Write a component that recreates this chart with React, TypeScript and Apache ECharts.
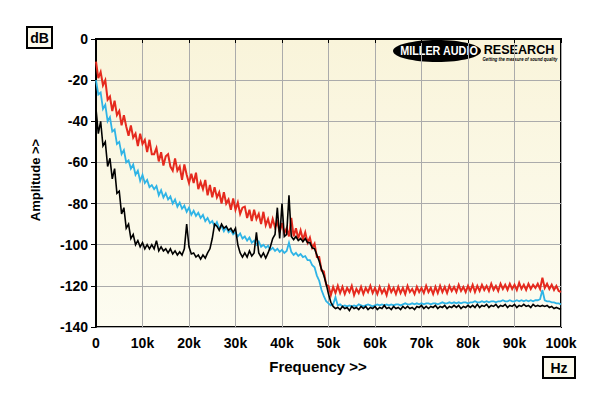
import React, { useEffect, useRef } from "react";
import * as echarts from "echarts";

// Frequency step between samples (Hz); 201 samples from 0 to 100 kHz
const STEP_HZ = 500;

const yTicks = [0, -20, -40, -60, -80, -100, -120, -140];
const xTickLabels = ["0", "10k", "20k", "30k", "40k", "50k", "60k", "70k", "80k", "90k", "100k"];

// Red trace (dB), one value per 0.5 kHz
const redValues = [
  -11, -19, -16, -22.5, -20, -29.5, -28, -35, -30, -37,
  -35, -42, -37, -42.5, -47, -42, -48, -46, -52, -46,
  -51, -49, -55, -49, -56, -56, -53, -59.5, -55, -61.5,
  -57, -56, -62, -64, -58, -64, -62, -68.5, -61, -66,
  -70, -65.5, -70, -65, -73, -69.5, -73, -68.5, -76, -71,
  -77, -72, -77, -74.5, -80, -74.5, -80, -78, -83, -77.5,
  -83, -79.5, -85, -82, -81.5, -87, -83, -88.5, -83, -87.5,
  -85, -90, -84, -90.5, -87.5, -92, -87.5, -91.5, -89, -94,
  -89.5, -94.5, -92, -96, -87, -96, -92, -97, -93, -97.5,
  -94, -99, -96.5, -101.5, -99.5, -106, -106, -112.5, -113, -119.5,
  -120, -124.5, -120.5, -123.5, -120, -123.5, -120.5, -124, -121, -123,
  -120, -124.5, -121.5, -123.5, -120.5, -124, -121, -123, -120, -123.5,
  -121, -124, -120.5, -123.5, -121.5, -124.5, -120, -123, -121, -124,
  -120.5, -123.5, -121, -124, -120, -123, -121.5, -124, -120.5, -123,
  -121, -123.5, -120, -123, -121, -124, -120.5, -123.5, -120, -123,
  -120.5, -123.5, -120, -122.5, -120.5, -123, -119.5, -122.5, -120.5, -123,
  -120, -122.5, -119.5, -123, -120, -122.5, -119.5, -122, -120, -122.5,
  -119, -122, -120, -122.5, -119, -121.5, -119.5, -122, -119, -121.5,
  -119.5, -122, -118.5, -121.5, -119.5, -122, -119, -121.5, -119.5, -121,
  -119, -121.5, -116, -121, -119, -121.5, -119.5, -122, -120, -122.5,
  -123,
];

// Cyan trace (dB)
const cyanValues = [
  -20, -27, -26, -34, -32, -40, -38, -45, -44, -51,
  -50, -56, -54, -60, -59, -63, -61, -66, -64, -69,
  -66, -70, -68.5, -72, -71, -73, -71.5, -76, -73.5, -77,
  -75, -78, -76.5, -80, -78, -81.5, -79.5, -82.5, -81, -84,
  -82, -85.5, -83.5, -86, -84.5, -87, -85.5, -88.5, -87, -89.5,
  -88.5, -91, -89, -92, -91, -93.5, -91.5, -94, -93, -95,
  -94, -96, -94.5, -97, -96, -98, -96.5, -99, -98, -100,
  -98.5, -101, -100, -101.5, -100.5, -102.5, -101.5, -103, -102, -103.5,
  -102.5, -104, -103, -99, -103.5, -105, -104, -105.5, -104.5, -106,
  -105.5, -107.5, -107.5, -110, -111, -115, -117.5, -122, -125, -127.5,
  -128.5, -129.5, -129, -125.5, -129.5, -129, -130, -129.5, -130, -129.5,
  -130, -129.5, -130, -129, -129.5, -130, -129.5, -129, -129.5, -130,
  -129.5, -129, -129.5, -129, -129.5, -129, -129.5, -129, -129.5, -129,
  -129, -129.5, -129, -128.5, -129, -129, -128.5, -129, -128.5, -129,
  -128.5, -129, -128.5, -128.5, -129, -128.5, -128.5, -129, -128.5, -128,
  -128.5, -128.5, -128, -128.5, -128, -128.5, -128, -128.5, -128, -128,
  -128.5, -128, -128, -127.5, -128, -128, -127.5, -128, -127.5, -128,
  -127.5, -127.5, -128, -127.5, -127.5, -127, -127.5, -127.5, -127, -127.5,
  -127.5, -127, -127.5, -127, -127.5, -127, -127.5, -127, -127.5, -127,
  -127, -126.5, -122, -127, -127.5, -127.5, -128, -128, -128.5, -128.5,
  -129,
];

// Black trace (dB)
const blackValues = [
  -34, -46, -40, -52, -50, -62, -58, -68, -63, -75,
  -74, -85, -82, -92, -90, -97, -95, -100, -98, -101,
  -99, -102, -100, -102, -100, -102, -98, -103, -101, -103,
  -102, -104, -102, -104.5, -103, -105, -103.5, -105, -102, -90,
  -101, -104.5, -104, -106, -105, -107, -105, -106.5, -104, -102,
  -97, -90, -91, -93, -90, -92, -91, -93, -92, -94,
  -92, -100, -104, -106, -104, -106, -103, -105.5, -104, -94,
  -104, -106, -104, -106.5, -104, -101, -97, -95, -82, -97,
  -80, -96, -95, -76, -96, -97.5, -96, -98, -97, -98.5,
  -97, -99, -99, -101.5, -102, -105, -108, -112, -115, -119,
  -124, -128, -130, -131, -130.5, -131.5, -130, -131, -130.5, -132,
  -130, -131, -130.5, -131.5, -130, -131, -130, -131.5, -130.5, -131,
  -130, -131.5, -130.5, -131, -129.5, -131, -130.5, -131.5, -130, -131,
  -130.5, -131.5, -130, -131, -130, -131, -130.5, -131.5, -130, -130.5,
  -129.5, -131, -130, -131, -130, -130.5, -129.5, -131, -130, -130.5,
  -129.5, -131, -130, -130.5, -129.5, -130.5, -129.5, -131, -130, -130.5,
  -129.5, -130.5, -129.5, -130.5, -129, -130.5, -129.5, -130, -129, -130.5,
  -129.5, -130, -129, -130.5, -129.5, -130, -129, -130.5, -129.5, -130,
  -129, -130.5, -129.5, -130, -129, -130, -129.5, -130.5, -129, -130,
  -129.5, -130, -129.5, -130, -129.5, -130.5, -130, -131, -130.5, -131,
  -131.5,
];

const toPairs = (vals: number[]) => vals.map((v, i) => [i * STEP_HZ, v]);

const FONT = "'Liberation Sans', Arial, sans-serif";

export default function App() {
  const ref = useRef<HTMLDivElement>(null);

  useEffect(() => {
    if (!ref.current) return;
    const chart = echarts.init(ref.current, null, { renderer: "svg" });
    const lineSeries = (name: string, vals: number[], color: string, width: number) => ({
      name,
      type: "line",
      data: toPairs(vals),
      showSymbol: false,
      symbol: "none",
      lineStyle: { color, width, join: "miter" },
      silent: true,
    });
    chart.setOption({
      animation: false,
      backgroundColor: "#ffffff",
      grid: {
        left: 96,
        right: 39,
        top: 39,
        bottom: 69,
        show: true,
        borderColor: "#000",
        borderWidth: 2,
        backgroundColor: new echarts.graphic.LinearGradient(0, 0, 0, 1, [
          { offset: 0, color: "#f9f4da" },
          { offset: 1, color: "#fdfcf1" },
        ]),
      },
      xAxis: {
        type: "value",
        min: 0,
        max: 100000,
        interval: 10000,
        axisLine: { show: true, lineStyle: { color: "#000", width: 2 } },
        axisTick: { show: true, length: 4, lineStyle: { color: "#000", width: 1 } },
        axisLabel: {
          margin: 9,
          color: "#000",
          fontFamily: FONT,
          fontWeight: "bold",
          fontSize: 14,
          formatter: (v: number) => xTickLabels[Math.round(v / 10000)] ?? "",
        },
        splitLine: { show: true, lineStyle: { color: "#ababab", width: 1 } },
      },
      yAxis: {
        type: "value",
        min: yTicks[yTicks.length - 1],
        max: yTicks[0],
        interval: 20,
        axisLine: { show: true, lineStyle: { color: "#000", width: 2 } },
        axisTick: { show: true, length: 5, lineStyle: { color: "#000", width: 1 } },
        axisLabel: {
          margin: 8,
          color: "#000",
          fontFamily: FONT,
          fontWeight: "bold",
          fontSize: 14,
        },
        splitLine: { show: true, lineStyle: { color: "#ababab", width: 1 } },
      },
      series: [
        lineSeries("red", redValues, "#e52a1e", 2),
        lineSeries("cyan", cyanValues, "#2fb4e6", 1.8),
        lineSeries("black", blackValues, "#000000", 1.6),
      ],
      graphic: [
        {
          type: "rect",
          shape: { x: 27, y: 27, width: 25, height: 21 },
          style: { fill: "#fcfaee", stroke: "#000", lineWidth: 2 },
        },
        {
          type: "text",
          x: 39.5,
          y: 38,
          style: { text: "dB", fill: "#000", font: `bold 14px ${FONT}`, align: "center", verticalAlign: "middle" },
        },
        {
          type: "rect",
          shape: { x: 543, y: 357, width: 32, height: 21 },
          style: { fill: "#fcfaee", stroke: "#000", lineWidth: 2 },
        },
        {
          type: "text",
          x: 559,
          y: 368,
          style: { text: "Hz", fill: "#000", font: `bold 14px ${FONT}`, align: "center", verticalAlign: "middle" },
        },
        {
          type: "text",
          x: 35,
          y: 180,
          rotation: Math.PI / 2,
          style: { text: "Amplitude >>", fill: "#000", font: `bold 13px ${FONT}`, align: "center", verticalAlign: "middle" },
        },
        {
          type: "text",
          x: 318,
          y: 366,
          style: { text: "Frequency >>", fill: "#000", font: `bold 15px ${FONT}`, align: "center", verticalAlign: "middle" },
        },
        {
          type: "ellipse",
          shape: { cx: 437, cy: 51, rx: 44, ry: 11 },
          style: { fill: "#000" },
        },
        {
          type: "text",
          x: 439,
          y: 51,
          scaleX: 0.9,
          style: { text: "MILLER AUDIO", fill: "#fff", font: `900 12px ${FONT}`, align: "center", verticalAlign: "middle" },
        },
        {
          type: "text",
          x: 519,
          y: 50,
          scaleX: 1.05,
          style: { text: "RESEARCH", fill: "#000", font: `900 12px ${FONT}`, align: "center", verticalAlign: "middle" },
        },
        {
          type: "text",
          x: 520,
          y: 59,
          scaleX: 0.85,
          style: { text: "Getting the measure of sound quality", fill: "#000", font: `italic bold 5px ${FONT}`, align: "center", verticalAlign: "middle" },
        },
      ],
    });
    return () => chart.dispose();
  }, []);

  return <div ref={ref} style={{ width: 600, height: 396, position: "absolute", left: 0, top: 0 }} />;
}
